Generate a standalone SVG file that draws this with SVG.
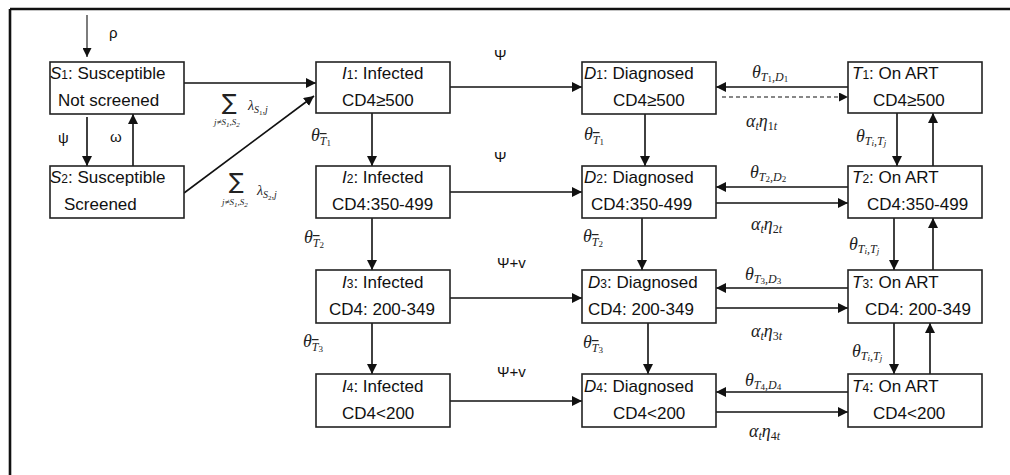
<svg xmlns="http://www.w3.org/2000/svg" width="1010" height="475" viewBox="0 0 1010 475">
<defs>
<marker id="ah" viewBox="0 0 10 10" refX="10" refY="5" markerWidth="10" markerHeight="10" markerUnits="userSpaceOnUse" orient="auto">
<path d="M0,0 L10,5 L0,10 z" fill="#111"/>
</marker>
<marker id="ahs" viewBox="0 0 10 10" refX="10" refY="5" markerWidth="9" markerHeight="9" markerUnits="userSpaceOnUse" orient="auto">
<path d="M0,0 L10,5 L0,10 z" fill="#111"/>
</marker>
</defs>
<style>
.box{fill:#fff;stroke:#222;stroke-width:1.6}
.t{font-family:"Liberation Sans",Arial,sans-serif;font-size:17px;fill:#111}
.it{font-style:italic}
.sb{font-size:12px}
.c{stroke:#111;stroke-width:1.6;fill:none;marker-end:url(#ah)}
.thin{stroke:#111;stroke-width:1.1;fill:none;marker-end:url(#ahs)}
.m{font-family:"Liberation Serif","Times New Roman",serif;font-style:italic;font-size:18px;fill:#222}
.ms{font-size:12px}
.md{font-size:9px;font-style:normal}
.g{font-family:"Liberation Sans",Arial,sans-serif;font-size:15px;fill:#111}
.ol{text-decoration:overline}
.sig{font-family:"DejaVu Sans","Liberation Serif",serif;font-size:22px;fill:#222}
.sub{font-family:"Liberation Serif","Times New Roman",serif;font-style:italic;font-size:9px;fill:#222}
</style>
<rect width="1010" height="475" fill="#fff"/>
<g id="frame">
<line x1="10" y1="9" x2="1010" y2="9" stroke="#111" stroke-width="2.6"/>
<line x1="10" y1="9" x2="10" y2="475" stroke="#111" stroke-width="2.6"/>
</g>
<g id="connectors">
<line class="thin" x1="87" y1="15" x2="87" y2="57"/>
<line class="c" x1="87" y1="117" x2="87" y2="166"/>
<line class="c" x1="133" y1="166" x2="133" y2="114"/>
<line class="c" x1="184" y1="83" x2="316" y2="83"/>
<line class="c" x1="184" y1="193" x2="314" y2="96"/>
<line class="c" x1="372" y1="113" x2="372" y2="166"/>
<line class="c" x1="372" y1="218" x2="372" y2="270"/>
<line class="c" x1="372" y1="323" x2="372" y2="374"/>
<line class="c" x1="450" y1="87" x2="582" y2="87"/>
<line class="c" x1="450" y1="192" x2="582" y2="192"/>
<line class="c" x1="450" y1="298" x2="582" y2="298"/>
<line class="c" x1="450" y1="401" x2="582" y2="401"/>
<line class="c" x1="645" y1="114" x2="645" y2="166"/>
<line class="c" x1="642" y1="218" x2="642" y2="270"/>
<line class="c" x1="648" y1="323" x2="648" y2="374"/>
<line class="c" x1="848" y1="87" x2="716" y2="87"/>
<line x1="722" y1="97" x2="848" y2="97" stroke="#111" stroke-width="1.1" stroke-dasharray="4,3" marker-end="url(#ahs)"/>
<line class="c" x1="848" y1="187" x2="716" y2="187"/>
<line class="c" x1="716" y1="203" x2="848" y2="203"/>
<line class="c" x1="848" y1="288" x2="716" y2="288"/>
<line class="c" x1="716" y1="308" x2="848" y2="308"/>
<line class="c" x1="848" y1="392" x2="716" y2="392"/>
<line class="c" x1="716" y1="412" x2="848" y2="412"/>
<line class="c" x1="897" y1="113" x2="897" y2="166"/>
<line class="c" x1="933" y1="166" x2="933" y2="113"/>
<line class="c" x1="894" y1="218" x2="894" y2="270"/>
<line class="c" x1="933" y1="270" x2="933" y2="218"/>
<line class="c" x1="894" y1="323" x2="894" y2="374"/>
<line class="c" x1="930" y1="374" x2="930" y2="323"/>
</g>
<g id="labels">
<text class="g" x="109" y="38">ρ</text>
<text class="g" x="58" y="143">ψ</text>
<text class="g" x="110" y="142">ω</text>
<text class="sig" x="222" y="110">∑</text>
<text class="sub" x="214" y="125">j≠S<tspan font-size="7" dy="2">1</tspan><tspan dy="-2">,S</tspan><tspan font-size="7" dy="2">2</tspan></text>
<text class="m" x="248" y="110" style="font-size:14px">λ<tspan font-size="10" dy="3">S</tspan><tspan font-size="7" style="font-style:normal" dy="2">1</tspan><tspan font-size="10" dy="-2">,j</tspan></text>
<text class="sig" x="229" y="189">∑</text>
<text class="sub" x="222" y="205">j≠S<tspan font-size="7" dy="2">1</tspan><tspan dy="-2">,S</tspan><tspan font-size="7" dy="2">2</tspan></text>
<text class="m" x="257" y="195" style="font-size:14px">λ<tspan font-size="10" dy="3">S</tspan><tspan font-size="7" style="font-style:normal" dy="2">2</tspan><tspan font-size="10" dy="-2">,j</tspan></text>
<text class="g" x="494" y="60">Ψ</text>
<text class="g" x="494" y="162">Ψ</text>
<text class="g" x="497" y="268">Ψ+v</text>
<text class="g" x="497" y="377">Ψ+v</text>
<text class="m" x="311" y="141">θ<tspan class="ms ol" dy="4">T</tspan><tspan class="md" dy="1">1</tspan></text>
<text class="m" x="304" y="243">θ<tspan class="ms ol" dy="4">T</tspan><tspan class="md" dy="1">2</tspan></text>
<text class="m" x="303" y="347">θ<tspan class="ms ol" dy="4">T</tspan><tspan class="md" dy="1">3</tspan></text>
<text class="m" x="584" y="140">θ<tspan class="ms ol" dy="4">T</tspan><tspan class="md" dy="1">1</tspan></text>
<text class="m" x="583" y="242">θ<tspan class="ms ol" dy="4">T</tspan><tspan class="md" dy="1">2</tspan></text>
<text class="m" x="583" y="348">θ<tspan class="ms ol" dy="4">T</tspan><tspan class="md" dy="1">3</tspan></text>
<text class="m" x="752" y="78">θ<tspan class="ms" dy="3">T</tspan><tspan class="md" dy="1">1</tspan><tspan class="ms" dy="-1">,D</tspan><tspan class="md" dy="1">1</tspan></text>
<text class="m" x="750" y="178">θ<tspan class="ms" dy="3">T</tspan><tspan class="md" dy="1">2</tspan><tspan class="ms" dy="-1">,D</tspan><tspan class="md" dy="1">2</tspan></text>
<text class="m" x="745" y="280">θ<tspan class="ms" dy="3">T</tspan><tspan class="md" dy="1">3</tspan><tspan class="ms" dy="-1">,D</tspan><tspan class="md" dy="1">3</tspan></text>
<text class="m" x="745" y="386">θ<tspan class="ms" dy="3">T</tspan><tspan class="md" dy="1">4</tspan><tspan class="ms" dy="-1">,D</tspan><tspan class="md" dy="1">4</tspan></text>
<text class="m" x="746" y="127">α<tspan class="ms" dy="3">t</tspan><tspan dy="-3">η</tspan><tspan class="ms" style="font-style:normal" dy="3">1</tspan><tspan class="ms">t</tspan></text>
<text class="m" x="751" y="230">α<tspan class="ms" dy="3">t</tspan><tspan dy="-3">η</tspan><tspan class="ms" style="font-style:normal" dy="3">2</tspan><tspan class="ms">t</tspan></text>
<text class="m" x="751" y="337">α<tspan class="ms" dy="3">t</tspan><tspan dy="-3">η</tspan><tspan class="ms" style="font-style:normal" dy="3">3</tspan><tspan class="ms">t</tspan></text>
<text class="m" x="749" y="437">α<tspan class="ms" dy="3">t</tspan><tspan dy="-3">η</tspan><tspan class="ms" style="font-style:normal" dy="3">4</tspan><tspan class="ms">t</tspan></text>
<text class="m" x="856" y="142">θ<tspan class="ms" dy="3">T</tspan><tspan font-size="9" dy="1">i</tspan><tspan class="ms" dy="-1">,T</tspan><tspan font-size="9" dy="1">j</tspan></text>
<text class="m" x="849" y="250">θ<tspan class="ms" dy="3">T</tspan><tspan font-size="9" dy="1">i</tspan><tspan class="ms" dy="-1">,T</tspan><tspan font-size="9" dy="1">j</tspan></text>
<text class="m" x="852" y="357">θ<tspan class="ms" dy="3">T</tspan><tspan font-size="9" dy="1">i</tspan><tspan class="ms" dy="-1">,T</tspan><tspan font-size="9" dy="1">j</tspan></text>
</g>
<g id="S1"><rect class="box" x="50" y="62" width="134" height="52"/>
<text class="t" x="50" y="79"><tspan class="it">S</tspan><tspan class="sb">1</tspan>: Susceptible</text>
<text class="t" x="58" y="106">Not screened</text></g>
<g id="S2"><rect class="box" x="50" y="166" width="134" height="52"/>
<text class="t" x="50" y="183"><tspan class="it">S</tspan><tspan class="sb">2</tspan>: Susceptible</text>
<text class="t" x="64" y="210">Screened</text></g>
<g id="I1"><rect class="box" x="316" y="62" width="134" height="51"/>
<text class="t" x="342" y="79"><tspan class="it">I</tspan><tspan class="sb">1</tspan>: Infected</text>
<text class="t" x="342" y="106">CD4≥500</text></g>
<g id="I2"><rect class="box" x="316" y="166" width="134" height="52"/>
<text class="t" x="342" y="183"><tspan class="it">I</tspan><tspan class="sb">2</tspan>: Infected</text>
<text class="t" x="332" y="210">CD4:350-499</text></g>
<g id="I3"><rect class="box" x="316" y="270" width="134" height="53"/>
<text class="t" x="342" y="288"><tspan class="it">I</tspan><tspan class="sb">3</tspan>: Infected</text>
<text class="t" x="329" y="315">CD4: 200-349</text></g>
<g id="I4"><rect class="box" x="316" y="374" width="134" height="53"/>
<text class="t" x="342" y="392"><tspan class="it">I</tspan><tspan class="sb">4</tspan>: Infected</text>
<text class="t" x="342" y="419">CD4&lt;200</text></g>
<g id="D1"><rect class="box" x="582" y="62" width="134" height="52"/>
<text class="t" x="584" y="79"><tspan class="it">D</tspan><tspan class="sb">1</tspan>: Diagnosed</text>
<text class="t" x="613" y="106">CD4≥500</text></g>
<g id="D2"><rect class="box" x="582" y="166" width="134" height="52"/>
<text class="t" x="584" y="183"><tspan class="it">D</tspan><tspan class="sb">2</tspan>: Diagnosed</text>
<text class="t" x="591" y="210">CD4:350-499</text></g>
<g id="D3"><rect class="box" x="582" y="270" width="134" height="53"/>
<text class="t" x="588" y="288"><tspan class="it">D</tspan><tspan class="sb">3</tspan>: Diagnosed</text>
<text class="t" x="588" y="315">CD4: 200-349</text></g>
<g id="D4"><rect class="box" x="582" y="374" width="134" height="53"/>
<text class="t" x="584" y="392"><tspan class="it">D</tspan><tspan class="sb">4</tspan>: Diagnosed</text>
<text class="t" x="613" y="419">CD4&lt;200</text></g>
<g id="T1"><rect class="box" x="848" y="62" width="134" height="51"/>
<text class="t" x="852" y="79"><tspan class="it">T</tspan><tspan class="sb">1</tspan>: On ART</text>
<text class="t" x="873" y="106">CD4≥500</text></g>
<g id="T2"><rect class="box" x="848" y="166" width="134" height="52"/>
<text class="t" x="852" y="183"><tspan class="it">T</tspan><tspan class="sb">2</tspan>: On ART</text>
<text class="t" x="867" y="210">CD4:350-499</text></g>
<g id="T3"><rect class="box" x="848" y="270" width="134" height="53"/>
<text class="t" x="852" y="288"><tspan class="it">T</tspan><tspan class="sb">3</tspan>: On ART</text>
<text class="t" x="865" y="315">CD4: 200-349</text></g>
<g id="T4"><rect class="box" x="848" y="374" width="134" height="53"/>
<text class="t" x="852" y="392"><tspan class="it">T</tspan><tspan class="sb">4</tspan>: On ART</text>
<text class="t" x="873" y="419">CD4&lt;200</text></g>
</svg>
